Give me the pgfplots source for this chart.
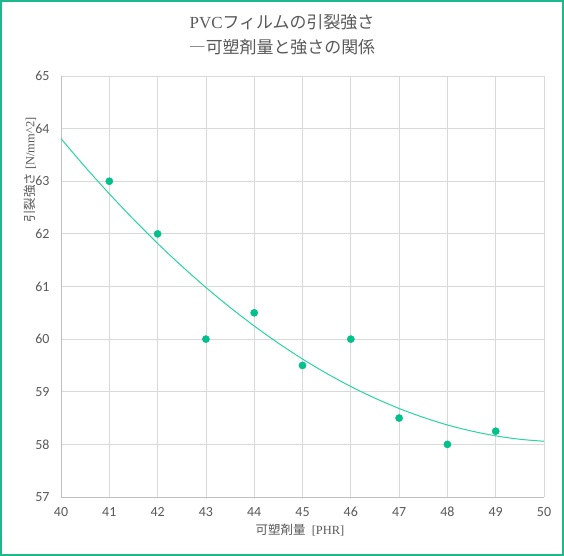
\documentclass[border=0pt]{standalone}
\usepackage{fontspec}
\usepackage{pgfplots}
\pgfplotsset{compat=1.18}
\setmainfont{Liberation Serif}
\newfontfamily\jp{Noto Sans CJK JP}
\newfontfamily\calf{Carlito}
\definecolor{txt}{HTML}{595959}
\definecolor{grd}{HTML}{D9D9D9}
\definecolor{axl}{HTML}{BFBFBF}
\definecolor{mk}{HTML}{00C08B}
\definecolor{tl}{HTML}{2AD4A2}
\definecolor{brd}{HTML}{1DB98A}
\begin{document}
\begin{tikzpicture}[x=1bp,y=1bp]
\useasboundingbox (0,0) rectangle (564,556);
\fill[white] (0,0) rectangle (564,556);
\draw[brd, line width=2bp] (1,1) rectangle (563,555);
\begin{axis}[
  at={(61bp,59bp)}, anchor=south west,
  width=483bp, height=421bp, scale only axis,
  xmin=40, xmax=50, ymin=57, ymax=65,
  xtick={40,41,...,50}, ytick={57,58,...,65},
  grid=major, major grid style={grd, line width=0.8bp},
  axis line style={axl, line width=0.8bp},
  axis x line*=bottom, axis y line*=left,
  tick style={draw=none},
  /pgf/number format/assume math mode=true,
  tick label style={font=\calf\fontsize{14}{14}\selectfont, text=txt},
  xticklabel style={anchor=center, yshift=-15bp},
  yticklabel style={anchor=east, xshift=-8bp},
  clip=true,
]
\addplot[tl, line width=1bp, smooth] coordinates {
(40,63.809) (40.5,63.272) (41,62.762) (41.5,62.278) (42,61.819) (42.5,61.388)
(43,60.982) (43.5,60.603) (44,60.250) (44.5,59.923) (45,59.622) (45.5,59.348)
(46,59.100) (46.5,58.878) (47,58.682) (47.5,58.513) (48,58.369) (48.5,58.253)
(49,58.162) (49.5,58.097) (50,58.059)};
\addplot[only marks, mark=*, mark size=3.6bp, mk, mark options={draw=mk, fill=mk}] coordinates {
(41,63) (42,62) (43,60) (44,60.5) (45,59.5) (46,60) (47,58.5) (48,58) (49,58.25)};
\end{axis}
\node[text=txt, font=\fontsize{17}{20}\selectfont] at (282,534) {PVC{\jp フィルムの引裂強さ}};
\node[text=txt, font=\fontsize{17}{20}\selectfont] at (282,509) {{\jp ―可塑剤量と強さの関係}};
\node[text=txt, font=\fontsize{12.5}{14}\selectfont, rotate=90] at (30,386) {{\jp 引裂強さ} [N/mm\^{}2]};
\node[text=txt, font=\fontsize{12.5}{14}\selectfont] at (300,26) {{\jp 可塑剤量}\ \ [PHR]};
\end{tikzpicture}
\end{document}
